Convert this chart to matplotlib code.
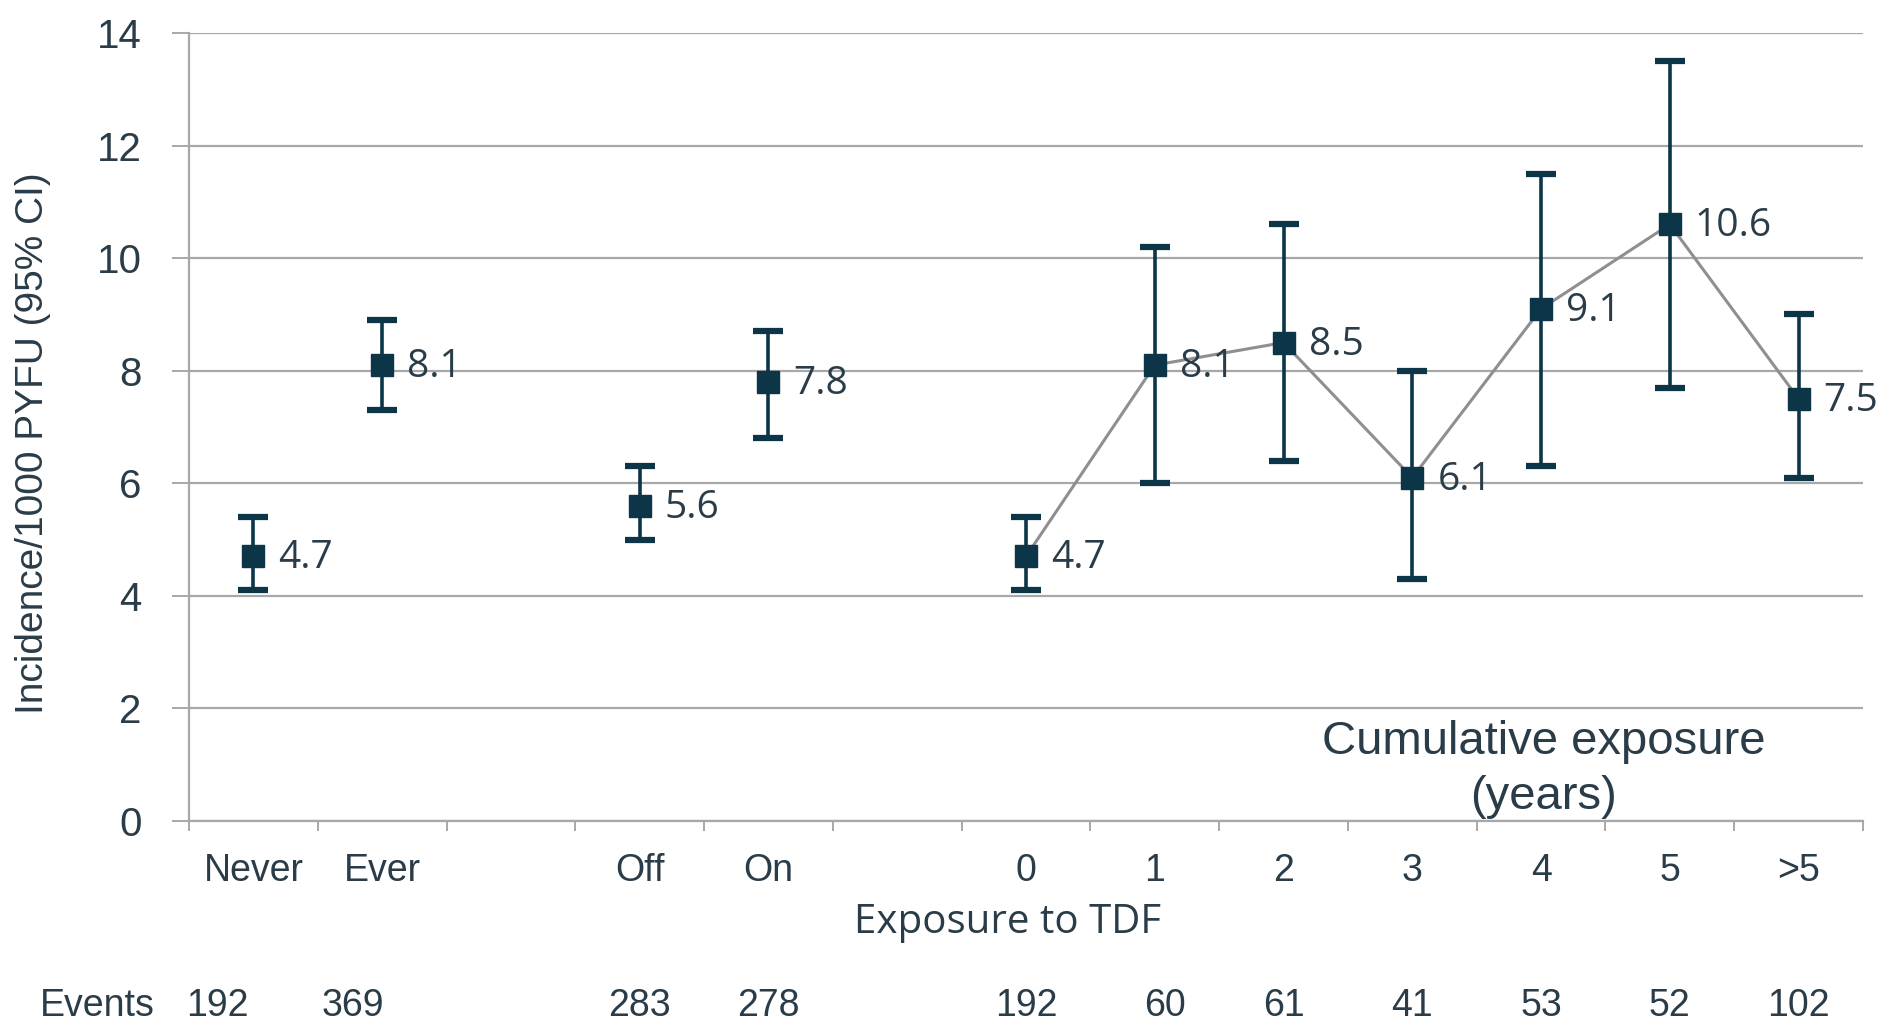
import numpy as np
import matplotlib.pyplot as plt
from matplotlib.transforms import blended_transform_factory

# DATA
categories = ['Never', 'Ever', '', 'Off', 'On', '', '0', '1', '2', '3', '4', '5', '>5']
incidence = [4.7, 8.1, None, 5.6, 7.8, None, 4.7, 8.1, 8.5, 6.1, 9.1, 10.6, 7.5]
ci_low = [4.1, 7.3, None, 5.0, 6.8, None, 4.1, 6.0, 6.4, 4.3, 6.3, 7.7, 6.1]
ci_high = [5.4, 8.9, None, 6.3, 8.7, None, 5.4, 10.2, 10.6, 8.0, 11.5, 13.5, 9.0]
events = ['192', '369', '', '283', '278', '', '192', '60', '61', '41', '53', '52', '102']
cumulative = ['0', '1', '2', '3', '4', '5', '>5']   # categories joined by the line

# STYLE
NAVY = '#0c3547'
TEXT = '#2a3c48'
GRID = '#a8a8a8'
events_shift = [-0.28, -0.23, 0, 0, 0, 0, 0, 0.08, 0, 0, 0, 0, 0]

fig = plt.figure(figsize=(18.86, 10.24), dpi=100)
ax = fig.add_axes([0.1002, 0.1982, 0.8876, 0.7696])

x = np.arange(len(categories))
pts = [i for i, v in enumerate(incidence) if v is not None]
y = np.array([incidence[i] for i in pts])
lo = np.array([ci_low[i] for i in pts])
hi = np.array([ci_high[i] for i in pts])

# grey line through cumulative exposure points
cum_idx = [categories.index(c) for c in cumulative]
ax.plot(cum_idx, [incidence[i] for i in cum_idx], color='#8f8f8f', lw=2.2, zorder=2)

ax.errorbar(x[pts], y, yerr=[y - lo, hi - y], fmt='s', color=NAVY, ms=16,
            elinewidth=2.6, capsize=11, capthick=4.5, zorder=3)

for i in pts:
    ax.annotate(f'{incidence[i]:.1f}', (i, incidence[i]), xytext=(25, -2),
                textcoords='offset pixels', ha='left', va='center',
                fontsize=28, family='Open Sans', color=TEXT, clip_on=False)

ax.set_xlim(-0.5, len(categories) - 0.5)
ax.set_ylim(0, 14)
ax.set_yticks(np.arange(0, 15, 2))
ax.yaxis.grid(True, color=GRID, lw=1.6)
ax.set_axisbelow(True)
ax.tick_params(axis='y', length=12, width=1.4, color=GRID, pad=22,
               labelsize=29, labelcolor=TEXT)
for t in ax.get_yticklabels():
    t.set_family('Liberation Sans')

ax.set_xticks(x)
ax.set_xticklabels(categories, fontsize=27, family='Liberation Sans', color=TEXT)
ax.tick_params(axis='x', which='major', length=0, pad=23)
ax.set_xticks(np.arange(-0.5, len(categories)), minor=True)
ax.tick_params(axis='x', which='minor', length=7, width=1.4, color=GRID)

for s in ['top', 'right']:
    ax.spines[s].set_visible(False)
ax.spines['left'].set_color(GRID)
ax.spines['bottom'].set_color(GRID)
ax.spines['left'].set_linewidth(1.6)
ax.spines['bottom'].set_linewidth(1.6)

ax.text(10.02, 0.91, 'Cumulative exposure\n(years)', ha='center', va='center',
        fontsize=34, family='Liberation Sans', color=TEXT, linespacing=1.32)

fig.text(1008 / 1886, 1 - 923 / 1024, 'Exposure to TDF', ha='center', va='center',
         fontsize=29, family='Open Sans', color=TEXT)
fig.text(33 / 1886, 1 - 443 / 1024, 'Incidence/1000 PYFU (95% CI)', rotation=90,
         ha='center', va='center', fontsize=28, family='Liberation Sans', color=TEXT)

tr = blended_transform_factory(ax.transData, fig.transFigure)
ev_y = 1 - 1006 / 1024
ax.text(-1.21, ev_y, 'Events', transform=tr, ha='center', va='center',
        fontsize=27, family='Liberation Sans', color=TEXT)
for i, e in enumerate(events):
    if e:
        ax.text(i + events_shift[i], ev_y, e, transform=tr, ha='center', va='center',
                fontsize=27, family='Liberation Sans', color=TEXT)

fig.savefig('out.png', dpi=100)
